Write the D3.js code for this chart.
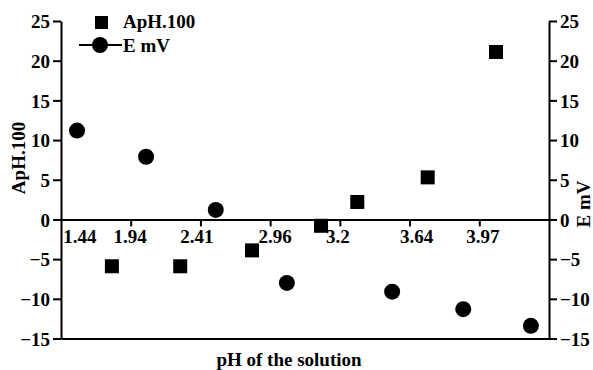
<!DOCTYPE html>
<html>
<head>
<meta charset="utf-8">
<script src="https://cdn.jsdelivr.net/npm/d3@7"></script>
<style>
  body { margin: 0; background: #fff; }
  svg text { font-family: "Liberation Serif", "Times New Roman", serif; fill: #000; font-weight: bold; font-size: 19px; }
  .axis path, .axis line { stroke: #000; stroke-width: 2; }
  .axis text { font-family: "Liberation Serif", "Times New Roman", serif; font-size: 19px; font-weight: bold; }
</style>
</head>
<body>
<div id="chart"></div>
<script>
// data
var yTicks = [-15, -10, -5, 0, 5, 10, 15, 20, 25];
var phLabels = ['1.44', '1.94', '2.41', '2.96', '3.2', '3.64', '3.97'];
var phLabelPos = [0.27, 0.99, 1.95, 3.07, 3.97, 5.1, 6.05];
var phTickPos = [1, 2, 3, 4, 5, 6];

var aphX = [0.73, 1.71, 2.74, 3.73, 4.25, 5.26, 6.24];
var aphValues = [-5.9, -5.9, -3.9, -0.8, 2.2, 5.3, 21.1];

var emvX = [0.23, 1.22, 2.22, 3.24, 4.75, 5.77, 6.74];
var emvValues = [11.2, 7.9, 1.2, -8.0, -9.1, -11.3, -13.4];

var size = {
  width: 593,
  height: 370,
  margin: { top: 21, right: 44, bottom: 31.5, left: 61 }
};
var margin = size.margin;
var width = size.width - margin.left - margin.right;
var height = size.height - margin.top - margin.bottom;

var x = d3.scaleLinear().domain([0, 7]).range([0, width]);
var y = d3.scaleLinear().domain([-15, 25]).range([height, 0]);
var y2 = d3.scaleLinear().domain([-15, 25]).range([height, 0]);

var svg = d3.select('#chart').append('svg')
  .attr('width', size.width)
  .attr('height', size.height);

var chart = svg.append('g')
  .attr('transform', `translate(${margin.left}, ${margin.top})`);

// left axis
chart.append('g')
  .attr('class', 'axis y')
  .call(d3.axisLeft(y).tickValues(yTicks).tickSize(8).tickSizeOuter(0).tickPadding(3))
  .selectAll('text').attr('dy', '0.36em');

// right axis
chart.append('g')
  .attr('class', 'axis y2')
  .attr('transform', `translate(${width}, 0)`)
  .call(d3.axisRight(y2).tickValues(yTicks).tickSize(8).tickSizeOuter(0).tickPadding(3))
  .selectAll('text').attr('dy', '0.36em');

// bottom frame line
chart.append('g')
  .attr('class', 'axis bottom')
  .attr('transform', `translate(0, ${height})`)
  .call(d3.axisBottom(x).tickValues([]).tickSizeOuter(0));

// zero line with pH ticks
chart.append('g')
  .attr('class', 'axis zero')
  .attr('transform', `translate(0, ${y(0)})`)
  .call(d3.axisBottom(x).tickValues(phTickPos).tickSize(7).tickSizeOuter(0).tickFormat(''));

chart.selectAll('.phlabel')
  .data(phLabels)
  .enter().append('text')
  .attr('class', 'phlabel')
  .attr('x', (d, i) => x(phLabelPos[i]))
  .attr('y', y(0) + 24)
  .attr('text-anchor', 'middle')
  .text(d => d);

// series
chart.selectAll('.sq')
  .data(aphValues)
  .enter().append('rect')
  .attr('class', 'sq')
  .attr('x', (d, i) => x(aphX[i]) - 7)
  .attr('y', d => y(d) - 7)
  .attr('width', 14)
  .attr('height', 14)
  .attr('fill', '#000');

chart.selectAll('.dot')
  .data(emvValues)
  .enter().append('circle')
  .attr('class', 'dot')
  .attr('cx', (d, i) => x(emvX[i]))
  .attr('cy', d => y2(d))
  .attr('r', 8)
  .attr('fill', '#000');

// axis titles
svg.append('text')
  .attr('transform', 'translate(25, 158) rotate(-90)')
  .attr('text-anchor', 'middle')
  .text('ApH.100');

svg.append('text')
  .attr('transform', 'translate(590, 204) rotate(-90)')
  .attr('text-anchor', 'middle')
  .text('E mV');

svg.append('text')
  .attr('x', 289)
  .attr('y', 366)
  .attr('text-anchor', 'middle')
  .text('pH of the solution');

// legend
var legend = svg.append('g');
legend.append('rect')
  .attr('x', 95).attr('y', 16).attr('width', 13).attr('height', 13)
  .attr('fill', '#000');
legend.append('text')
  .attr('x', 123).attr('y', 28)
  .text('ApH.100');
legend.append('line')
  .attr('x1', 79).attr('x2', 122).attr('y1', 45).attr('y2', 45)
  .attr('stroke', '#000').attr('stroke-width', 2);
legend.append('circle')
  .attr('cx', 100).attr('cy', 45).attr('r', 8)
  .attr('fill', '#000');
legend.append('text')
  .attr('x', 123).attr('y', 52)
  .text('E mV');
</script>
</body>
</html>
